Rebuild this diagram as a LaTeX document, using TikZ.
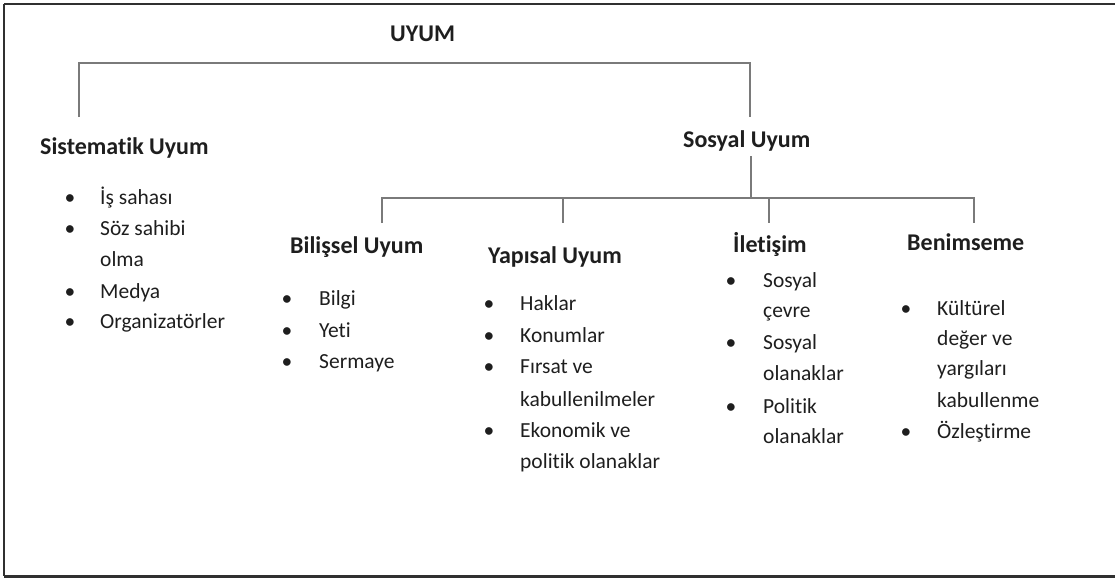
\documentclass[tikz,border=0pt]{standalone}
\usepackage{fontspec}
\setmainfont{Carlito}[Ligatures={NoCommon,NoDiscretionary,NoRequired}]
\definecolor{txt}{HTML}{1E1E1E}
\definecolor{linegray}{HTML}{7A7A7A}
\definecolor{framec}{HTML}{303030}
\begin{document}
\begin{tikzpicture}[x=1pt,y=-1pt,
  head/.style={font=\bfseries\fontsize{24}{29}\selectfont, anchor=base west, inner sep=0pt, text=txt},
  itemtxt/.style={font=\fontsize{21.5}{26}\selectfont, anchor=base west, inner sep=0pt, text=txt},
  bul/.style={font=\fontsize{21.5}{26}\selectfont, anchor=base, inner sep=0pt, text=txt},
  conn/.style={draw=linegray, line width=1.5pt},
  frame/.style={draw=framec}]
\useasboundingbox (0,0) rectangle (1115,579);
% frame
\coordinate (f1) at (1115,4);
\coordinate (f2) at (4,4);
\coordinate (f3) at (4,576);
\coordinate (f4) at (1115,576);
\draw[frame, line width=1.5pt] (f2) -- (f3);
\draw[frame, line width=2.5pt] (f1) -- (f2);
\draw[frame, line width=3pt] (f3) -- (f4);
% headings
\node[head] (uyum) at (390,41) {UYUM};
\node[head] (sist) at (40,154) {Sistematik Uyum};
\node[head] (sos) at (683,147) {Sosyal Uyum};
\node[head] (bil) at (290,253) {Bilişsel Uyum};
\node[head] (yap) at (488,263) {Yapısal Uyum};
\node[head] (ilet) at (733,252) {İletişim};
\node[head] (ben) at (907,250) {Benimseme};
% connectors
\coordinate (a1) at (79,117);
\coordinate (a2) at (79,63);
\coordinate (a3) at (750,63);
\coordinate (a4) at (750,117);
\draw[conn] (a1) -- (a2) -- (a3) -- (a4);
\coordinate (b0) at (751,156);
\coordinate (b1) at (751,198);
\draw[conn] (b0) -- (b1);
\coordinate (c1) at (382,223);
\coordinate (c2) at (382,198);
\coordinate (c3) at (974,198);
\coordinate (c4) at (974,223);
\draw[conn] (c1) -- (c2) -- (c3) -- (c4);
\coordinate (d1) at (563,198);
\coordinate (d2) at (563,223);
\draw[conn] (d1) -- (d2);
\coordinate (e1) at (769,198);
\coordinate (e2) at (769,223);
\draw[conn] (e1) -- (e2);
% Sistematik list
\node[bul] (s1b) at (70,204) {•};
\node[itemtxt] (s1) at (100,204) {İş sahası};
\node[bul] (s2b) at (70,235) {•};
\node[itemtxt] (s2) at (100,235) {Söz sahibi};
\node[itemtxt] (s2c) at (100,266) {olma};
\node[bul] (s3b) at (70,298) {•};
\node[itemtxt] (s3) at (100,298) {Medya};
\node[bul] (s4b) at (70,328) {•};
\node[itemtxt] (s4) at (100,328) {Organizatörler};
% Bilişsel list
\node[bul] (b1b) at (287,305) {•};
\node[itemtxt] (bl1) at (319,305) {Bilgi};
\node[bul] (b2b) at (287,337) {•};
\node[itemtxt] (bl2) at (319,337) {Yeti};
\node[bul] (b3b) at (287,368) {•};
\node[itemtxt] (bl3) at (319,368) {Sermaye};
% Yapısal list
\node[bul] (y1b) at (489,310) {•};
\node[itemtxt] (y1) at (520,310) {Haklar};
\node[bul] (y2b) at (489,342) {•};
\node[itemtxt] (y2) at (520,342) {Konumlar};
\node[bul] (y3b) at (489,373) {•};
\node[itemtxt] (y3) at (520,373) {Fırsat ve};
\node[itemtxt] (y3c) at (520,406) {kabullenilmeler};
\node[bul] (y4b) at (489,437) {•};
\node[itemtxt] (y4) at (520,437) {Ekonomik ve};
\node[itemtxt] (y4c) at (520,468) {politik olanaklar};
% İletişim list
\node[bul] (i1b) at (731,287) {•};
\node[itemtxt] (i1) at (763,287) {Sosyal};
\node[itemtxt] (i1c) at (763,317) {çevre};
\node[bul] (i2b) at (731,349) {•};
\node[itemtxt] (i2) at (763,349) {Sosyal};
\node[itemtxt] (i2c) at (763,380) {olanaklar};
\node[bul] (i3b) at (731,413) {•};
\node[itemtxt] (i3) at (763,413) {Politik};
\node[itemtxt] (i3c) at (763,443) {olanaklar};
% Benimseme list
\node[bul] (n1b) at (906,315) {•};
\node[itemtxt] (n1) at (937,315) {Kültürel};
\node[itemtxt] (n1c) at (937,345) {değer ve};
\node[itemtxt] (n1d) at (937,375) {yargıları};
\node[itemtxt] (n1e) at (937,407) {kabullenme};
\node[bul] (n2b) at (906,438) {•};
\node[itemtxt] (n2) at (937,438) {Özleştirme};
\end{tikzpicture}
\end{document}
